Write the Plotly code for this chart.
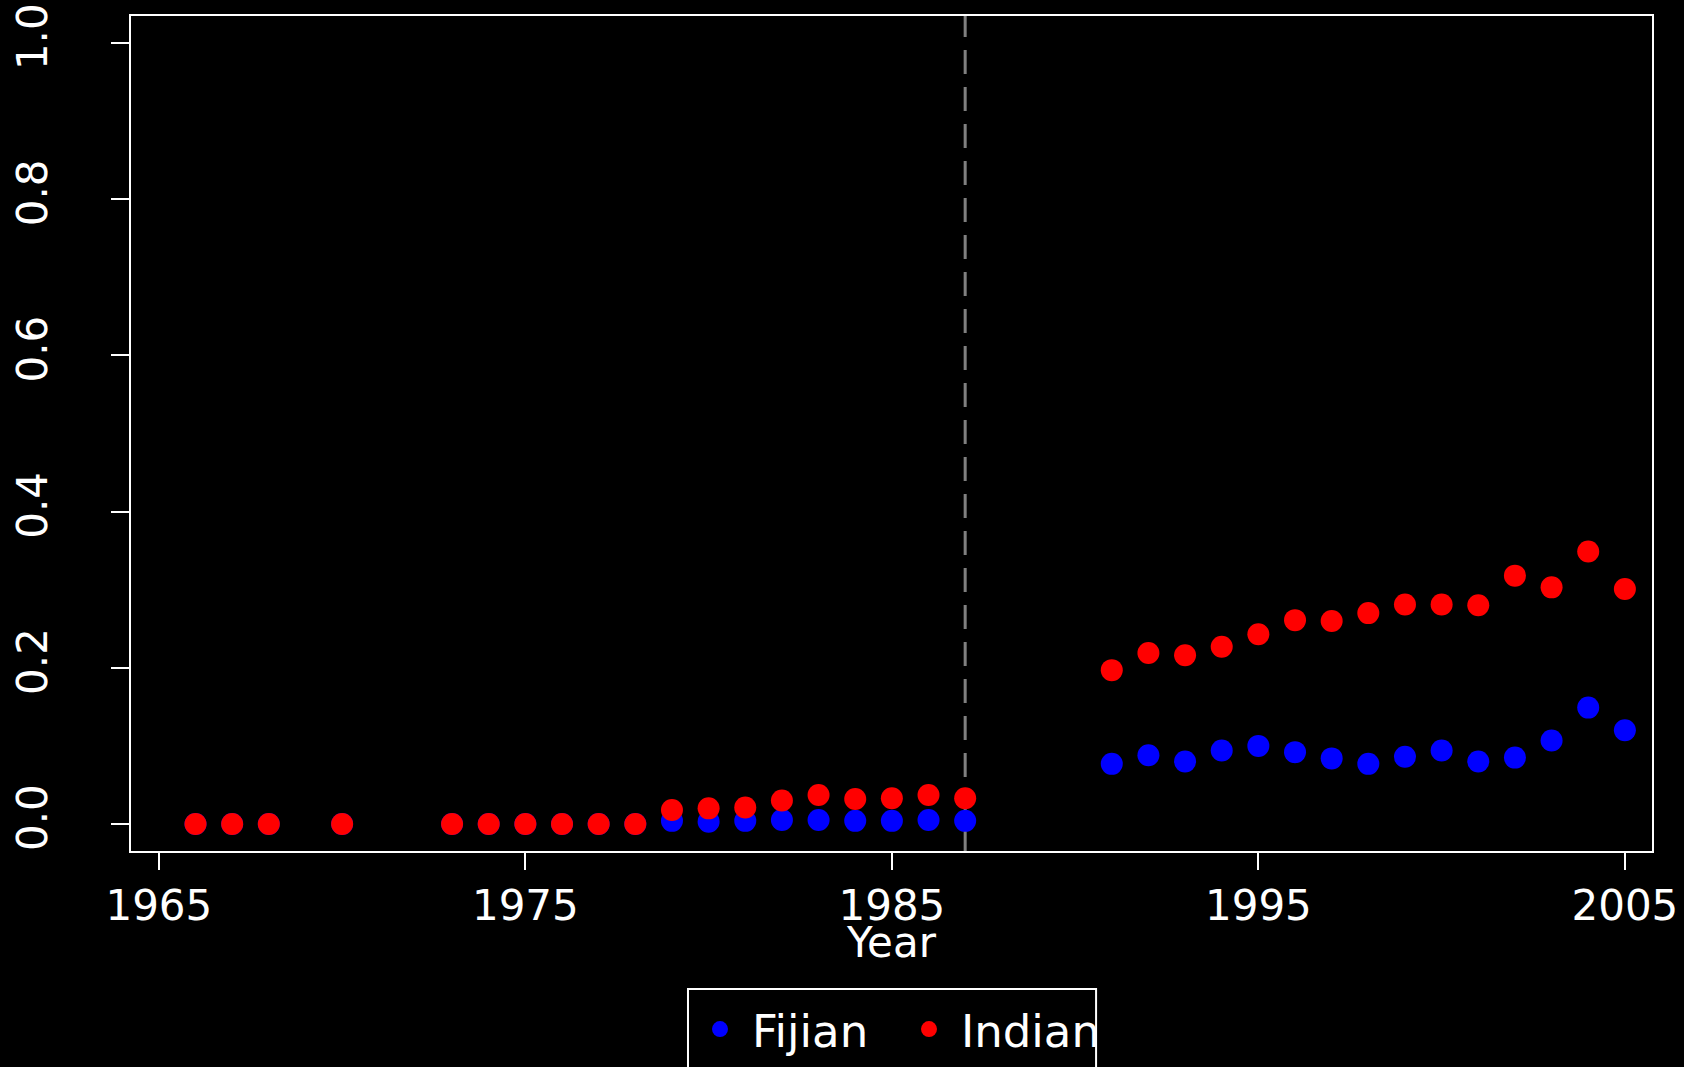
import plotly.graph_objects as go

years = [1966, 1967, 1968, 1970, 1973, 1974, 1975, 1976, 1977, 1978,
         1979, 1980, 1981, 1982, 1983, 1984, 1985, 1986, 1987,
         1991, 1992, 1993, 1994, 1995, 1996, 1997, 1998, 1999, 2000,
         2001, 2002, 2003, 2004, 2005]

fijian = [0, 0, 0, 0, 0, 0, 0, 0, 0, 0,
          0.004, 0.003, 0.004, 0.005, 0.005, 0.004, 0.004, 0.005, 0.004,
          0.077, 0.088, 0.080, 0.094, 0.100, 0.092, 0.084, 0.077, 0.086, 0.094,
          0.080, 0.085, 0.107, 0.149, 0.120]

indian = [0, 0, 0, 0, 0, 0, 0, 0, 0, 0,
          0.018, 0.020, 0.021, 0.030, 0.037, 0.032, 0.033, 0.037, 0.033,
          0.197, 0.219, 0.216, 0.227, 0.243, 0.261, 0.260, 0.270, 0.281, 0.281,
          0.280, 0.318, 0.303, 0.349, 0.301]

x_ticks = [1965, 1975, 1985, 1995, 2005]
y_ticks = [0.0, 0.2, 0.4, 0.6, 0.8, 1.0]
coup_year = 1987

font = "DejaVu Sans"

fig = go.Figure()
fig.add_trace(go.Scatter(name="Fijian", x=years, y=fijian, mode="markers",
                         marker=dict(color="#0000ff", size=22)))
fig.add_trace(go.Scatter(name="Indian", x=years, y=indian, mode="markers",
                         marker=dict(color="#ff0000", size=22)))

# coup marker
fig.add_shape(type="line", xref="x", yref="paper", x0=coup_year, x1=coup_year, y0=0, y1=1,
              line=dict(color="#808080", width=3, dash="24px,13px"), layer="below")

# legend frame (runs off the bottom of the page, like the original)
fig.add_shape(type="rect", xref="paper", yref="paper", x0=0.3662, x1=0.6345, y0=-0.1653, y1=-0.30,
              line=dict(color="white", width=2), fillcolor="rgba(0,0,0,0)", layer="above")

fig.add_annotation(text="Year", xref="paper", yref="paper", x=0.5, y=-0.110,
                   xanchor="center", yanchor="middle", showarrow=False, font=dict(size=42))

fig.update_layout(
    width=1684, height=1067,
    paper_bgcolor="black", plot_bgcolor="black",
    font=dict(family=font, color="white", size=42),
    margin=dict(l=131, r=32, t=16, b=216, autoexpand=False),
    showlegend=True,
    legend=dict(orientation="h", x=0.3662, xanchor="left", y=-0.1705, yanchor="top",
                bgcolor="rgba(0,0,0,0)", borderwidth=0,
                font=dict(size=45, color="white"), itemwidth=54, entrywidth=140,
                traceorder="normal"),
    xaxis=dict(range=[1964.24, 2005.74], tickvals=x_ticks, ticktext=[str(v) for v in x_ticks],
               showgrid=False, zeroline=False, showline=True, linecolor="white", linewidth=2,
               mirror=True, ticks="outside", ticklen=17, tickwidth=2, tickcolor="white"),
    yaxis=dict(range=[-0.0346, 1.0346], tickvals=y_ticks, ticktext=["0.0", "0.2", "0.4", "0.6", "0.8", "1.0"],
               showgrid=False, zeroline=False, showline=True, linecolor="white", linewidth=2,
               mirror=True, ticks="outside", ticklen=18, tickwidth=2, tickcolor="white",
               tickangle=-90, ticklabelstandoff=47),
)

fig.write_html("out.html", config={"displayModeBar": False},
               post_script="document.body.style.margin='0';document.body.style.overflow='hidden';")
